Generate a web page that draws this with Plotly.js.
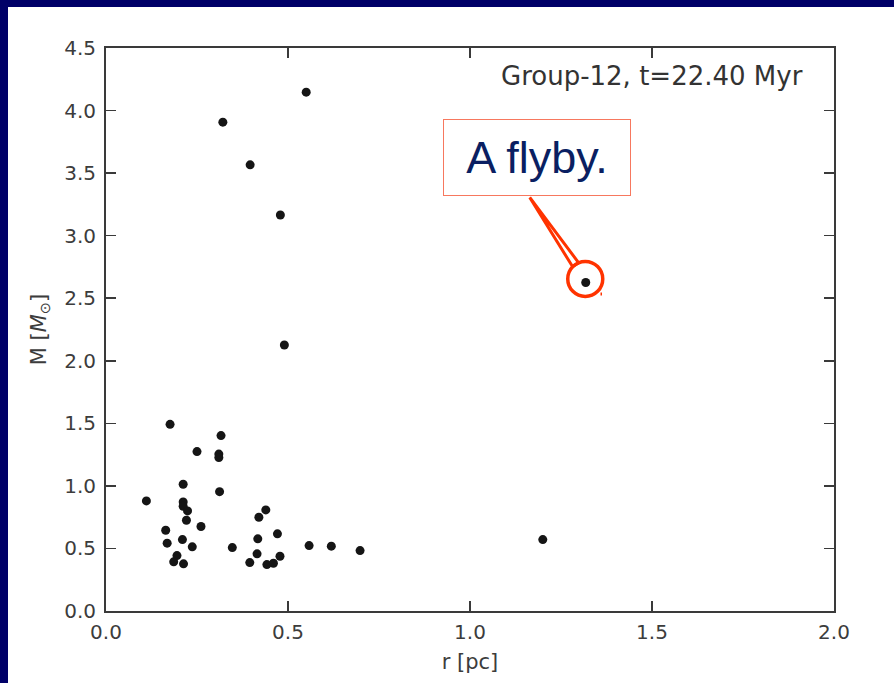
<!DOCTYPE html>
<html>
<head>
<meta charset="utf-8">
<script src="https://cdn.plot.ly/plotly-3.0.1.min.js"></script>
<style>
  html, body { margin: 0; padding: 0; background: #000068; width: 894px; height: 683px; overflow: hidden; }
  #chart { position: absolute; left: 8px; top: 7px; width: 886px; height: 676px; background: #ffffff; }
</style>
</head>
<body>
<div id="chart"></div>
<script>
// ---- data ----
const radius_pc = [0.550, 0.321, 0.396, 0.479, 0.490, 1.318, 1.200,
  0.176, 0.316, 0.250, 0.310, 0.310, 0.212, 0.312, 0.111, 0.212, 0.212, 0.224, 0.221, 0.261, 0.164, 0.168, 0.210, 0.237, 0.347, 0.195, 0.186, 0.213,
  0.439, 0.420, 0.471, 0.417, 0.558, 0.619, 0.698, 0.415, 0.478, 0.395, 0.442, 0.460];
const mass_msun = [4.147, 3.907, 3.566, 3.165, 2.126, 2.626, 0.571,
  1.492, 1.402, 1.274, 1.254, 1.226, 1.013, 0.954, 0.880, 0.872, 0.837, 0.800, 0.725, 0.675, 0.645, 0.542, 0.571, 0.513, 0.507, 0.443, 0.393, 0.377,
  0.808, 0.749, 0.617, 0.577, 0.523, 0.518, 0.483, 0.457, 0.438, 0.387, 0.371, 0.382];
const flybyIndex = 5;
const xTickVals = [0, 0.5, 1.0, 1.5, 2.0];
const xTickText = ['0.0', '0.5', '1.0', '1.5', '2.0'];
const yTickVals = [0, 0.5, 1.0, 1.5, 2.0, 2.5, 3.0, 3.5, 4.0, 4.5];
const yTickText = ['0.0', '0.5', '1.0', '1.5', '2.0', '2.5', '3.0', '3.5', '4.0', '4.5'];
const groupLabel = 'Group-12, t=22.40 Myr';
const flybyLabel = 'A flyby.';

const axisColor = '#3a3a3a';
const tickFont = { family: 'DejaVu Sans', size: 20, color: '#3c3c3c' };
const titleFont = { family: 'DejaVu Sans', size: 21, color: '#3c3c3c' };
const red = '#ff3300';

const fx = radius_pc[flybyIndex], fy = mass_msun[flybyIndex];

const trace = {
  type: 'scatter', mode: 'markers',
  x: radius_pc, y: mass_msun,
  marker: { size: 9, color: '#151515', line: { width: 0 } },
  hoverinfo: 'x+y'
};

const layout = {
  width: 886, height: 676,
  paper_bgcolor: '#ffffff', plot_bgcolor: '#ffffff',
  margin: { l: 98, r: 60, t: 41, b: 72 },
  showlegend: false,
  xaxis: {
    range: [0, 2], tickvals: xTickVals, ticktext: xTickText,
    showgrid: false, zeroline: false,
    showline: true, linecolor: axisColor, linewidth: 2, mirror: 'ticks',
    ticks: 'inside', ticklen: 10, tickwidth: 1.5, tickcolor: axisColor,
    tickfont: tickFont, ticklabelstandoff: 2,
    title: { text: 'r [pc]', font: titleFont, standoff: 11 }
  },
  yaxis: {
    range: [0, 4.5], tickvals: yTickVals, ticktext: yTickText,
    showgrid: false, zeroline: false,
    showline: true, linecolor: axisColor, linewidth: 2, mirror: 'ticks',
    ticks: 'inside', ticklen: 10, tickwidth: 1.5, tickcolor: axisColor,
    tickfont: tickFont, ticklabelstandoff: 4,
    title: { text: 'M [<i>M</i><sub>⊙</sub>]', font: titleFont, standoff: 12 }
  },
  annotations: [
    { xref: 'paper', yref: 'paper', x: 0.9602, y: 0.951, xanchor: 'right', yanchor: 'middle',
      text: groupLabel, showarrow: false,
      font: { family: 'DejaVu Sans', size: 26, color: '#333333' } },
    { xref: 'x', yref: 'y', x: 1.1836, y: 3.627, xanchor: 'center', yanchor: 'middle',
      text: flybyLabel, showarrow: false, width: 186, height: 75,
      bgcolor: '#ffffff', bordercolor: '#f7785e', borderwidth: 1, borderpad: 0,
      font: { family: 'Liberation Sans', size: 45, color: '#0a1f62' } }
  ],
  shapes: [
    { type: 'path', xref: 'x', yref: 'y', xsizemode: 'pixel', ysizemode: 'pixel',
      xanchor: fx, yanchor: fy,
      path: 'M -56,85 L -13.1,15.7 L -7.1,19.7 Z',
      fillcolor: '#ffffff', line: { color: red, width: 3 } },
    { type: 'circle', xref: 'x', yref: 'y', xsizemode: 'pixel', ysizemode: 'pixel',
      xanchor: fx, yanchor: fy,
      x0: -18, x1: 17, y0: -14, y1: 21,
      line: { color: red, width: 3.5 } },
    { type: 'line', xref: 'x', yref: 'y', xsizemode: 'pixel', ysizemode: 'pixel',
      xanchor: fx, yanchor: fy,
      x0: 15.5, x1: 15.5, y0: -10, y1: -13,
      line: { color: red, width: 1.5 } }
  ]
};

Plotly.newPlot('chart', [trace], layout, { displayModeBar: false, staticPlot: true });
</script>
</body>
</html>
